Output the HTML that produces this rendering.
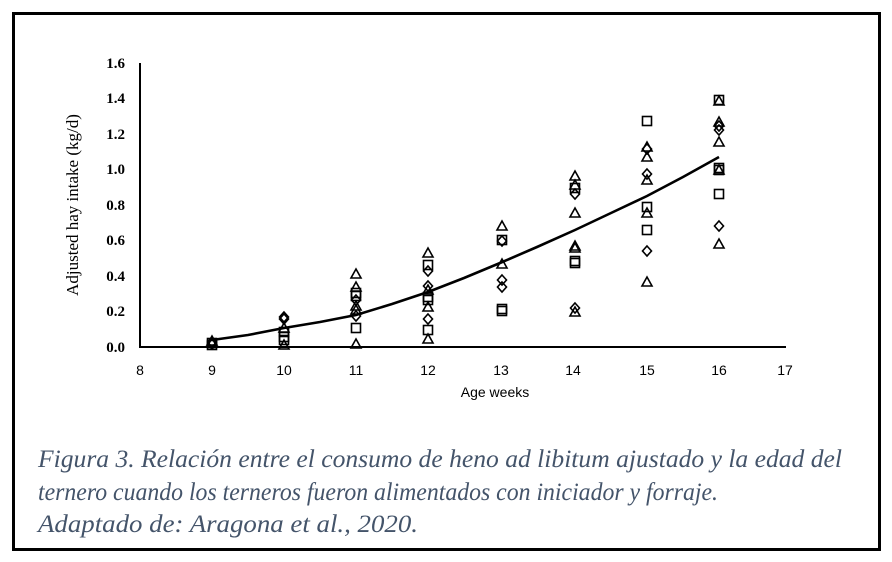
<!DOCTYPE html>
<html><head><meta charset="utf-8"><style>
html,body{margin:0;padding:0;background:#fff;}
svg{display:block;}
</style></head><body>
<svg id="s" width="892" height="562" xmlns="http://www.w3.org/2000/svg">
<rect x="13.5" y="13.5" width="866" height="536" fill="#fff" stroke="#000" stroke-width="3"/>
<g font-family="Liberation Serif, serif" font-weight="bold" font-size="15" text-anchor="end" fill="#000">
<text x="125" y="352">0.0</text><text x="125" y="316">0.2</text><text x="125" y="281">0.4</text>
<text x="125" y="245">0.6</text><text x="125" y="210">0.8</text><text x="125" y="174">1.0</text>
<text x="125" y="139">1.2</text><text x="125" y="103">1.4</text><text x="125" y="68">1.6</text>
</g>
<text transform="translate(78,205) rotate(-90)" font-family="Liberation Serif, serif" font-size="17" text-anchor="middle">Adjusted hay intake (kg/d)</text>
<g font-family="Liberation Sans, sans-serif" font-size="14" text-anchor="middle">
<text x="140" y="375">8</text><text x="212" y="375">9</text><text x="284" y="375">10</text>
<text x="356" y="375">11</text><text x="428" y="375">12</text><text x="501" y="375">13</text>
<text x="573" y="375">14</text><text x="647" y="375">15</text><text x="719" y="375">16</text>
<text x="785" y="375">17</text>
</g>
<text x="495" y="397" font-family="Liberation Sans, sans-serif" font-size="14" text-anchor="middle">Age weeks</text>
<line x1="140" y1="63" x2="140" y2="348" stroke="#000" stroke-width="2"/>
<line x1="139" y1="347" x2="786" y2="347" stroke="#000" stroke-width="2"/>
<g id="m" fill="none" stroke="#000" stroke-width="1.6"></g>
<polyline fill="none" stroke="#000" stroke-width="2.6" points="212,340 248,335 284,328 320,322 356,315 392,304 428,292 464,278 500,263 537,247 575,230 611,213 647,196 683,177 719,157"/>
<g font-family="Liberation Serif, serif" font-style="italic" font-size="25" fill="#44546a">
<text x="38" y="467" textLength="804" lengthAdjust="spacingAndGlyphs">Figura 3. Relación entre el consumo de heno ad libitum ajustado y la edad del</text>
<text x="38" y="500" textLength="680" lengthAdjust="spacingAndGlyphs">ternero cuando los terneros fueron alimentados con iniciador y forraje.</text>
<text x="38" y="532" textLength="380" lengthAdjust="spacingAndGlyphs">Adaptado de: Aragona et al., 2020.</text>
</g>
</svg>
<script>
var d={
212:"d342 s343 t341 s345 d344 t343",
284:"d317 d319 t328 s332 s337 t345 s340",
356:"t274 t287 s293 s296 d300 t306 t310 d316 s328 t344",
428:"t253 s265 d271 d286 t290 s297 s300 t307 d319 s330 t339",
502:"t226 s240 d241 t264 d280 d287 s309 s311",
575:"t176 t185 s188 d194 t213 t246 t248 s261 s263 d308 t312",
647:"s121 t147 d149 t157 d174 t180 s207 t213 s230 d251 t282",
719:"s100 t101 t122 d126 d130 t142 s168 s170 t170 s194 d226 t244"};
var g=document.getElementById("m"),h="";
for(var x in d){x=+x;d[x].split(" ").forEach(function(p){var t=p[0],y=+p.slice(1);
if(t=="s")h+='<rect x="'+(x-4.5)+'" y="'+(y-4.5)+'" width="9" height="9"/>';
else if(t=="t")h+='<polygon points="'+(x-5)+','+(y+4)+' '+(x+5)+','+(y+4)+' '+x+','+(y-5)+'"/>';
else h+='<polygon points="'+x+','+(y-5)+' '+(x+4.5)+','+y+' '+x+','+(y+5)+' '+(x-4.5)+','+y+'"/>';});}
g.innerHTML=h;
</script>
</body></html>
